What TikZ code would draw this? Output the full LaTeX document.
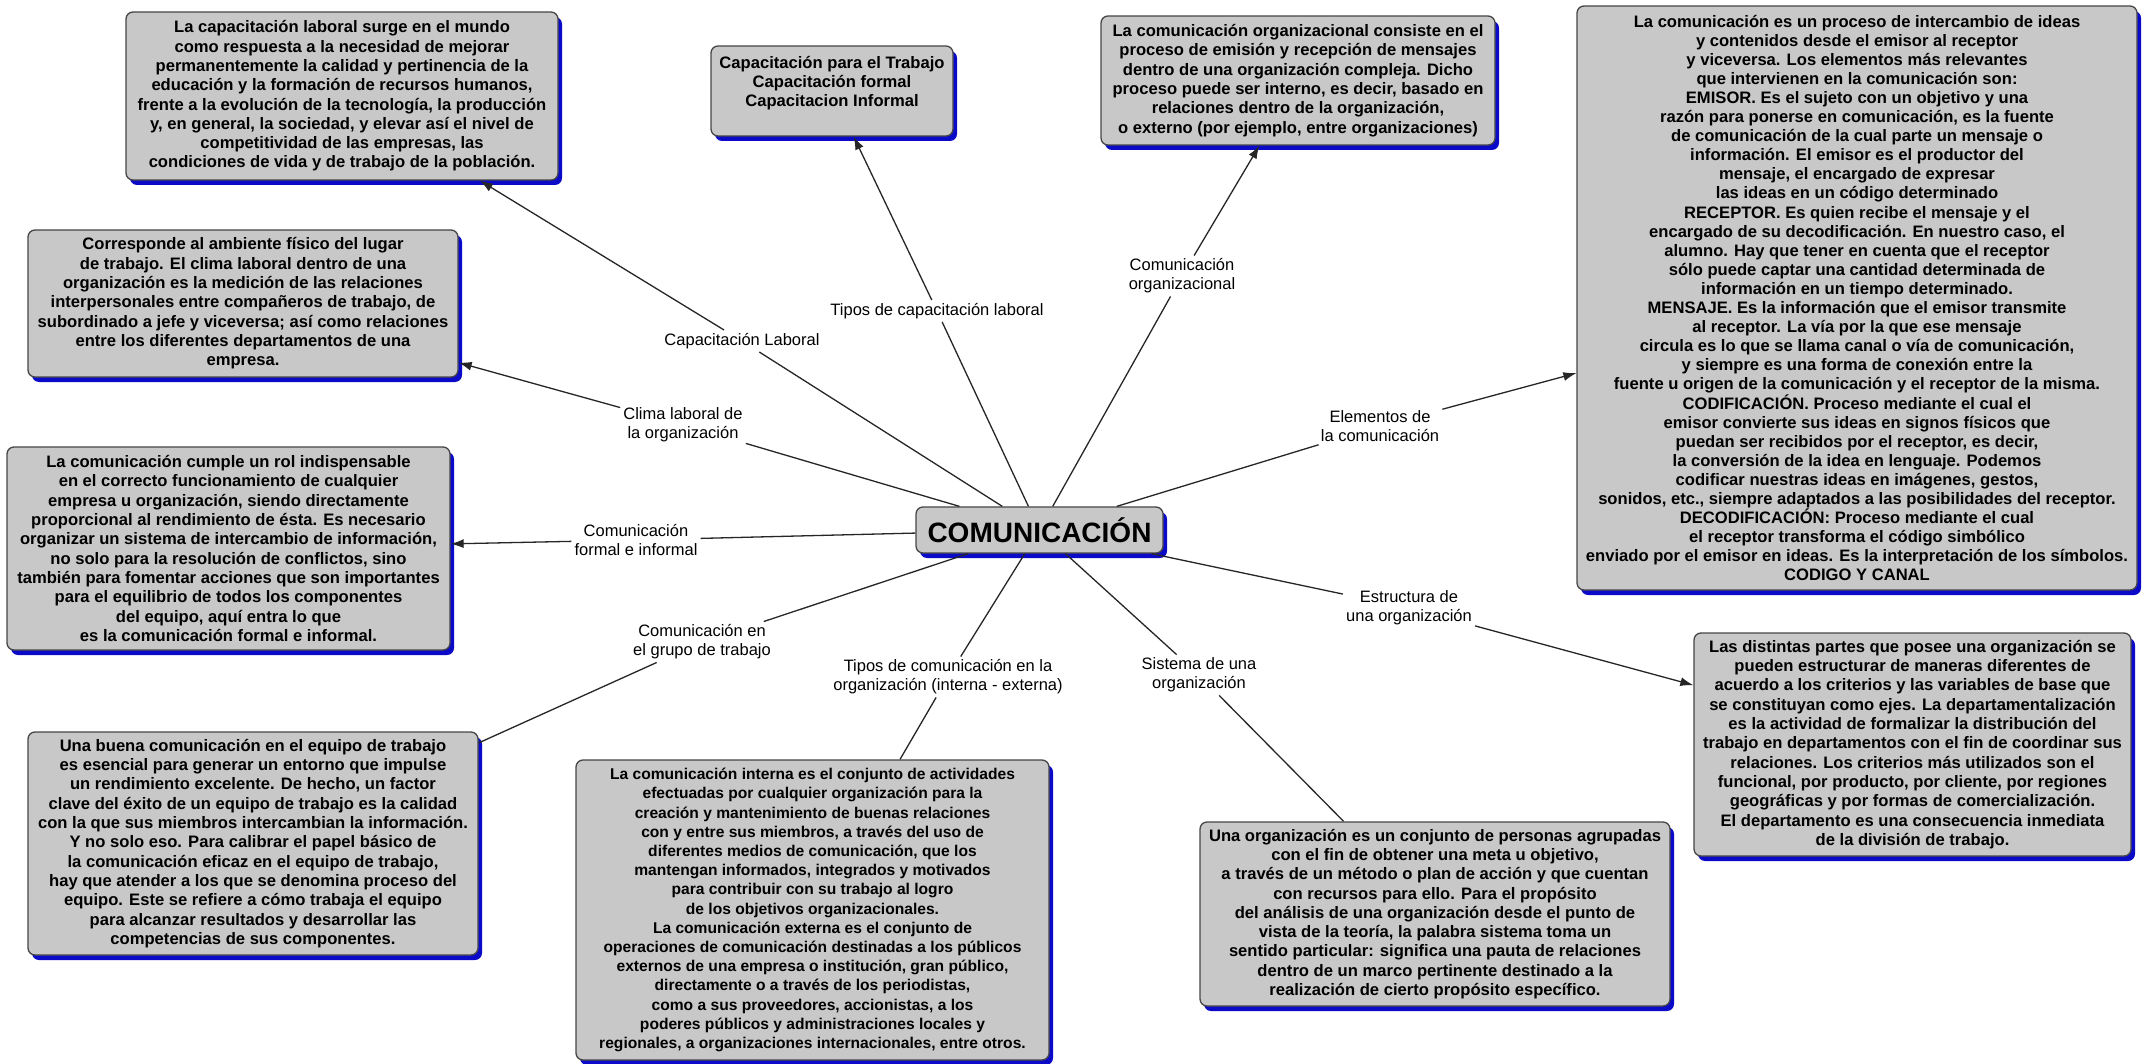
\documentclass[tikz,border=0pt]{standalone}
\usepackage{fontspec}
\setmainfont{Liberation Sans}
\usetikzlibrary{arrows.meta,shadows}
\definecolor{boxgray}{RGB}{200,200,200}
\definecolor{boxedge}{RGB}{70,70,70}
\definecolor{shadeblue}{RGB}{10,10,200}

\begin{document}
\begin{tikzpicture}[x=1pt,y=-1pt,
      concept/.style={rectangle,rounded corners=7pt,draw=boxedge,line width=1.3pt,
                      fill=boxgray,align=center,inner sep=4pt,
                      font=\bfseries\fontsize{16.6}{19.3}\selectfont,
                      drop shadow={shadow xshift=4pt,shadow yshift=-5pt,
                                   fill=shadeblue,opacity=1}},
      hub/.style={concept,font=\bfseries\fontsize{28}{32}\selectfont},
      phrase/.style={align=center,inner sep=3pt,
                     font=\fontsize{16.5}{19}\selectfont},
      plain/.style={draw=black!85,line width=1.3pt},
      single/.style={plain,-{Latex[length=13pt,width=9pt]}},
    ]
      \path[fill=white] (0,0) rectangle (2149,1064);
      \useasboundingbox (0,0) rectangle (2149,1064);

      \node[hub,minimum width=247pt,minimum height=46pt] (comunicacion) at (1039.5,530) {COMUNICACIÓN};

      \node[concept,minimum width=432pt,minimum height=168pt] (capacitacion) at (342,96) {
        La capacitación laboral surge en el mundo\\
        como respuesta a la necesidad de mejorar\\
        permanentemente la calidad y pertinencia de la\\
        educación y la formación de recursos humanos,\\
        frente a la evolución de la tecnología, la producción\\
        y, en general, la sociedad, y elevar así el nivel de\\
        competitividad de las empresas, las\\
        condiciones de vida y de trabajo de la población.};
      \node[concept,minimum width=242pt,minimum height=90pt] (tipos) at (832,91) {
        Capacitación para el Trabajo\\
        Capacitación formal\\
        Capacitacion Informal\\ \mbox{}};
      \node[concept,minimum width=394pt,minimum height=129pt] (organizacional) at (1298,80.5) {
        La comunicación organizacional consiste en el\\
        proceso de emisión y recepción de mensajes\\
        dentro de una organización compleja. Dicho\\
        proceso puede ser interno, es decir, basado en\\
        relaciones dentro de la organización,\\
        o externo (por ejemplo, entre organizaciones)};
      \node[concept,minimum width=560pt,minimum height=584pt,
            font=\bfseries\fontsize{16.6}{19.1}\selectfont] (elementos) at (1857,298) {
        La comunicación es un proceso de intercambio de ideas\\
        y contenidos desde el emisor al receptor\\
        y viceversa. Los elementos más relevantes\\
        que intervienen en la comunicación son:\\
        EMISOR. Es el sujeto con un objetivo y una\\
        razón para ponerse en comunicación, es la fuente\\
        de comunicación de la cual parte un mensaje o\\
        información. El emisor es el productor del\\
        mensaje, el encargado de expresar\\
        las ideas en un código determinado\\
        RECEPTOR. Es quien recibe el mensaje y el\\
        encargado de su decodificación. En nuestro caso, el\\
        alumno. Hay que tener en cuenta que el receptor\\
        sólo puede captar una cantidad determinada de\\
        información en un tiempo determinado.\\
        MENSAJE. Es la información que el emisor transmite\\
        al receptor. La vía por la que ese mensaje\\
        circula es lo que se llama canal o vía de comunicación,\\
        y siempre es una forma de conexión entre la\\
        fuente u origen de la comunicación y el receptor de la misma.\\
        CODIFICACIÓN. Proceso mediante el cual el\\
        emisor convierte sus ideas en signos físicos que\\
        puedan ser recibidos por el receptor, es decir,\\
        la conversión de la idea en lenguaje. Podemos\\
        codificar nuestras ideas en imágenes, gestos,\\
        sonidos, etc., siempre adaptados a las posibilidades del receptor.\\
        DECODIFICACIÓN: Proceso mediante el cual\\
        el receptor transforma el código simbólico\\
        enviado por el emisor en ideas. Es la interpretación de los símbolos.\\
        CODIGO Y CANAL};
      \node[concept,minimum width=430pt,minimum height=147pt] (clima) at (243,303.5) {
        Corresponde al ambiente físico del lugar\\
        de trabajo. El clima laboral dentro de una\\
        organización es la medición de las relaciones\\
        interpersonales entre compañeros de trabajo, de\\
        subordinado a jefe y viceversa; así como relaciones\\
        entre los diferentes departamentos de una\\
        empresa.};
      \node[concept,minimum width=443pt,minimum height=203pt] (formal) at (228.5,548.5) {
        La comunicación cumple un rol indispensable\\
        en el correcto funcionamiento de cualquier\\
        empresa u organización, siendo directamente\\
        proporcional al rendimiento de ésta. Es necesario\\
        organizar un sistema de intercambio de información,\\
        no solo para la resolución de conflictos, sino\\
        también para fomentar acciones que son importantes\\
        para el equilibrio de todos los componentes\\
        del equipo, aquí entra lo que\\
        es la comunicación formal e informal.};
      \node[concept,minimum width=450pt,minimum height=223pt] (equipo) at (253,843.5) {
        Una buena comunicación en el equipo de trabajo\\
        es esencial para generar un entorno que impulse\\
        un rendimiento excelente. De hecho, un factor\\
        clave del éxito de un equipo de trabajo es la calidad\\
        con la que sus miembros intercambian la información.\\
        Y no solo eso. Para calibrar el papel básico de\\
        la comunicación eficaz en el equipo de trabajo,\\
        hay que atender a los que se denomina proceso del\\
        equipo. Este se refiere a cómo trabaja el equipo\\
        para alcanzar resultados y desarrollar las\\
        competencias de sus componentes.};
      \node[concept,minimum width=473pt,minimum height=300pt,
            font=\bfseries\fontsize{15.6}{19.2}\selectfont] (interna) at (812.5,910) {
        La comunicación interna es el conjunto de actividades\\
        efectuadas por cualquier organización para la\\
        creación y mantenimiento de buenas relaciones\\
        con y entre sus miembros, a través del uso de\\
        diferentes medios de comunicación, que los\\
        mantengan informados, integrados y motivados\\
        para contribuir con su trabajo al logro\\
        de los objetivos organizacionales.\\
        La comunicación externa es el conjunto de\\
        operaciones de comunicación destinadas a los públicos\\
        externos de una empresa o institución, gran público,\\
        directamente o a través de los periodistas,\\
        como a sus proveedores, accionistas, a los\\
        poderes públicos y administraciones locales y\\
        regionales, a organizaciones internacionales, entre otros.};
      \node[concept,minimum width=470pt,minimum height=184pt] (sistema) at (1435,914) {
        Una organización es un conjunto de personas agrupadas\\
        con el fin de obtener una meta u objetivo,\\
        a través de un método o plan de acción y que cuentan\\
        con recursos para ello. Para el propósito\\
        del análisis de una organización desde el punto de\\
        vista de la teoría, la palabra sistema toma un\\
        sentido particular: significa una pauta de relaciones\\
        dentro de un marco pertinente destinado a la\\
        realización de cierto propósito específico.};
      \node[concept,minimum width=437pt,minimum height=223pt] (estructura) at (1912.5,744.5) {
        Las distintas partes que posee una organización se\\
        pueden estructurar de maneras diferentes de\\
        acuerdo a los criterios y las variables de base que\\
        se constituyan como ejes. La departamentalización\\
        es la actividad de formalizar la distribución del\\
        trabajo en departamentos con el fin de coordinar sus\\
        relaciones. Los criterios más utilizados son el\\
        funcional, por producto, por cliente, por regiones\\
        geográficas y por formas de comercialización.\\
        El departamento es una consecuencia inmediata\\
        de la división de trabajo.};

      % linking phrases
      \node[phrase] (lcapacitacion) at (742,341) {Capacitación Laboral};
      \node[phrase] (ltipos) at (937,311) {Tipos de capacitación laboral};
      \node[phrase] (lorganizacional) at (1182,276) {Comunicación\\organizacional};
      \node[phrase] (lelementos) at (1380,426) {Elementos de\\la comunicación};
      \node[phrase] (lclima) at (683,425) {Clima laboral de\\la organización};
      \node[phrase] (lformal) at (636,540) {Comunicación\\formal e informal};
      \node[phrase] (lequipo) at (702,642) {Comunicación en\\el grupo de trabajo};
      \node[phrase] (linterna) at (948,677) {Tipos de comunicación en la\\organización (interna - externa)};
      \node[phrase] (lsistema) at (1199,675) {Sistema de una\\organización};
      \node[phrase] (lestructura) at (1409,608) {Estructura de\\una organización};

      \path (comunicacion) edge[plain] (lcapacitacion);
      \path (lcapacitacion) edge[single] (capacitacion);
      \path (comunicacion) edge[plain] (ltipos);
      \path (ltipos) edge[single] (tipos);
      \path (comunicacion) edge[plain] (lorganizacional);
      \path (lorganizacional) edge[single] (organizacional);
      \path (comunicacion) edge[plain] (lelementos);
      \path (lelementos) edge[single] (elementos);
      \path (comunicacion) edge[plain] (lclima);
      \path (lclima) edge[single] (clima);
      \path (comunicacion) edge[plain] (lformal);
      \path (lformal) edge[single] (formal);
      \path (comunicacion) edge[plain] (lequipo);
      \path (lequipo) edge[plain] (equipo);
      \path (comunicacion) edge[plain] (linterna);
      \path (linterna) edge[plain] (interna);
      \path (comunicacion) edge[plain] (lsistema);
      \path (lsistema) edge[plain] (sistema);
      \path (comunicacion) edge[plain] (lestructura);
      \path (lestructura) edge[single] (estructura);
\end{tikzpicture}
\end{document}
